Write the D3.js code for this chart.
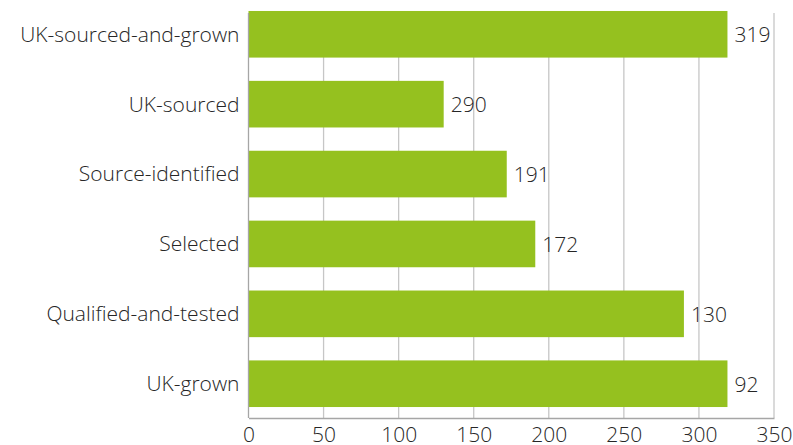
<!DOCTYPE html>
<html>
<head>
<meta charset="utf-8">
<script src="https://cdn.jsdelivr.net/npm/d3@7"></script>
<style>
  html, body { margin: 0; padding: 0; background: #fff; }
  svg text { font-family: "Open Sans", "Noto Sans", sans-serif; font-weight: 300; fill: #262626; }
</style>
</head>
<body>
<svg id="chart" width="793" height="445"></svg>
<script>
// Categories, top to bottom
const categories = [
  "UK-sourced-and-grown",
  "UK-sourced",
  "Source-identified",
  "Selected",
  "Qualified-and-tested",
  "UK-grown"
];
// Bar lengths as drawn on the axis
const barValues = [319, 130, 172, 191, 290, 319];
// Value labels printed beside each bar
const labelValues = [319, 290, 191, 172, 130, 92];
// Axis ticks
const xTicks = [0, 50, 100, 150, 200, 250, 300, 350];

const svg = d3.select("#chart");
const plotLeft = 248.5, plotRight = 774, plotTop = 0, plotBottom = 418, gridTop = 13;

const x = d3.scaleLinear().domain([0, 350]).range([plotLeft, plotRight]);
const y = d3.scaleBand().domain(categories).range([plotTop, plotBottom])
  .paddingInner(0.333).paddingOuter(0.157);

// Vertical gridlines
svg.append("g").selectAll("line").data(xTicks.filter(d => d > 0)).join("line")
  .attr("x1", d => x(d)).attr("x2", d => x(d))
  .attr("y1", gridTop).attr("y2", plotBottom)
  .attr("stroke", "#c6c6c6").attr("stroke-width", 1.3);

// Bars
svg.append("g").selectAll("rect").data(categories).join("rect")
  .attr("x", x(0))
  .attr("y", d => y(d))
  .attr("width", (d, i) => x(barValues[i]) - x(0))
  .attr("height", y.bandwidth())
  .attr("fill", "#95c11f");

// Value labels
svg.append("g").selectAll("text").data(categories).join("text")
  .attr("x", (d, i) => x(barValues[i]) + 7)
  .attr("y", d => y(d) + y.bandwidth() / 2)
  .attr("dominant-baseline", "central")
  .attr("font-size", 21)
  .text((d, i) => labelValues[i]);

// Y axis (category labels)
const yAxis = d3.axisLeft(y).tickSize(0).tickPadding(9);
const gy = svg.append("g").attr("transform", `translate(${plotLeft},0)`).call(yAxis);
gy.select(".domain").attr("stroke", "#a6a6a6").attr("stroke-width", 1.3)
  .attr("d", `M0,${gridTop}V${plotBottom}`);
gy.selectAll("text").attr("font-size", 21).attr("dy", "0.35em");

// X axis
const xAxis = d3.axisBottom(x).tickValues(xTicks).tickSize(0).tickPadding(9);
const gx = svg.append("g").attr("transform", `translate(0,${plotBottom})`).call(xAxis);
gx.select(".domain").attr("stroke", "#a6a6a6").attr("stroke-width", 1.3);
gx.selectAll("text").attr("font-size", 21);
</script>
</body>
</html>
